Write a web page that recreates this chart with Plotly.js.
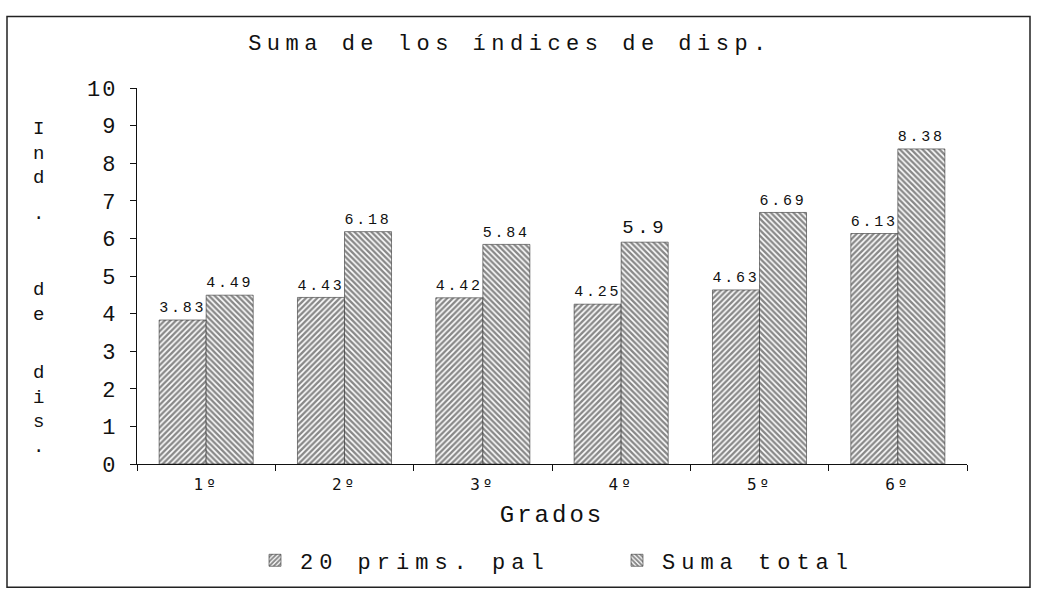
<!DOCTYPE html>
<html>
<head>
<meta charset="utf-8">
<script src="https://cdn.plot.ly/plotly-3.0.1.min.js"></script>
<style>
  html, body { margin: 0; padding: 0; background: #fff; }
  #chart { width: 1038px; height: 593px; }
  .gtitle { letter-spacing: 5.5px; }
  .legendtext { letter-spacing: 6px; }
  .xtitle { letter-spacing: 3px; }
  .bartext { letter-spacing: 3.5px; }
  .xtick text { letter-spacing: 3px; }
  .ytick text, .y2tick text { letter-spacing: 2px; }
</style>
</head>
<body>
<div id="chart"></div>
<script>
// ---- data ----
const categories = ["1º", "2º", "3º", "4º", "5º", "6º"];
const prims20 = [3.83, 4.43, 4.42, 4.25, 4.63, 6.13];
const sumaTotal = [4.49, 6.18, 5.84, 5.9, 6.69, 8.38];
const prims20Labels = ["3.83", "4.43", "4.42", "4.25", "4.63", "6.13"];
const sumaTotalLabels = ["4.49", "6.18", "5.84", "5.9", "6.69", "8.38"];
const seriesNames = ["20 prims. pal", "Suma total"];
const titleText = "Suma de los índices de disp.";
const xTitleText = "Grados";
const yTitleParts = ["Ind", ".", "de", "dis."];   // "Ind. de dis." written vertically
const yTicks = [0, 1, 2, 3, 4, 5, 6, 7, 8, 9, 10];

// ---- styling / layout ----
const MONO = "Liberation Mono, Courier New, monospace";
const W = 1038, H = 593;
const L = 137, R = 71, T = 88, B = 127;
const pw = W - L - R, ph = H - T - B;
const px2x = p => (p - L) / pw;
const py2y = p => (H - B - p) / ph;

const barText = { family: MONO, size: 19, color: "#111" };
const pat = { size: 4, solidity: 0.6, fgcolor: "#111", bgcolor: "#fff", fillmode: "overlay" };

const traces = [
  {
    type: "bar", name: seriesNames[0], x: categories, y: prims20,
    text: prims20Labels, textposition: "outside", textfont: barText,
    cliponaxis: false,
    marker: { color: "#fff", line: { color: "#333", width: 0.6 },
      pattern: Object.assign({ shape: "/" }, pat) },
    hoverinfo: "skip"
  },
  {
    type: "bar", name: seriesNames[1], x: categories, y: sumaTotal,
    text: sumaTotalLabels, textposition: "outside", textfont: barText,
    cliponaxis: false,
    marker: { color: "#fff", line: { color: "#333", width: 0.6 },
      pattern: Object.assign({ shape: "\\" }, pat) },
    hoverinfo: "skip"
  }
];

// vertical stacked y-axis title: each part is a column of characters
const partCenterY = [154, 215, 304, 412];
const annotations = yTitleParts.map((part, i) => ({
  text: part.split("").join("<br>"), xref: "paper", yref: "paper",
  x: px2x(38), y: py2y(partCenterY[i]), xanchor: "center", yanchor: "middle",
  showarrow: false, font: { family: MONO, size: 19, color: "#111" }
}));

const axisCommon = {
  range: [0, 10], tickvals: yTicks, ticks: "outside", ticklen: 6, tickwidth: 1,
  tickcolor: "#111", showline: true, linecolor: "#111", linewidth: 1.2,
  showgrid: false, zeroline: false, fixedrange: true,
  tickfont: { family: MONO, size: 22, color: "#111" }
};

const layout = {
  width: W, height: H,
  margin: { l: L, r: R, t: T, b: B },
  paper_bgcolor: "#fff", plot_bgcolor: "#fff",
  barmode: "group", bargap: 0.32, bargroupgap: 0,
  showlegend: true,
  title: {
    text: titleText, x: 510 / W, xanchor: "center", y: 1 - 42 / H, yanchor: "middle",
    font: { family: MONO, size: 22, color: "#111" }
  },
  xaxis: {
    type: "category", range: [-0.5, 5.5], tickson: "boundaries",
    ticks: "outside", ticklen: 6, tickcolor: "#111", tickwidth: 1,
    showline: true, linecolor: "#111", linewidth: 1.2, showgrid: false, zeroline: false,
    tickfont: { family: "DejaVu Sans Mono, monospace", size: 16, color: "#111" }, ticklabelstandoff: 6,
    title: { text: xTitleText, font: { family: MONO, size: 24, color: "#111" }, standoff: 11 },
    fixedrange: true
  },
  yaxis: Object.assign({}, axisCommon, { side: "left", ticklabelstandoff: 8 }),
  yaxis2: Object.assign({}, axisCommon, { side: "right", overlaying: "y", ticklabelstandoff: 4 }),
  legend: {
    orientation: "h", x: px2x(250), xanchor: "left", y: py2y(563), yanchor: "middle",
    font: { family: MONO, size: 22, color: "#111" }, itemwidth: 40, entrywidth: 307,
    bgcolor: "rgba(0,0,0,0)"
  },
  annotations: annotations,
  shapes: [
    { type: "rect", xref: "paper", yref: "paper",
      x0: px2x(7), x1: px2x(1030), y0: py2y(590), y1: py2y(16),
      line: { color: "#222", width: 1.5 }, fillcolor: "rgba(0,0,0,0)", layer: "below" }
  ]
};

Plotly.newPlot("chart", traces, layout, { staticPlot: true, displayModeBar: false });
</script>
</body>
</html>
